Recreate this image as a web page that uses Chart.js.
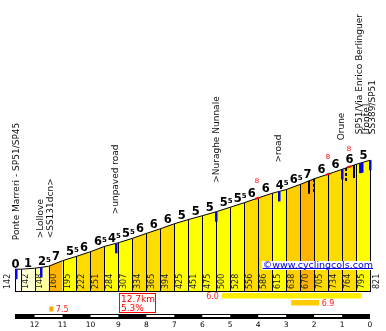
<!DOCTYPE html>
<html>
<head>
<meta charset="utf-8">
<script src="https://cdn.jsdelivr.net/npm/chart.js@4/dist/chart.umd.min.js"></script>
<style>
  body { margin: 0; background: #fff; }
  #wrap { width: 386px; height: 331px; }
</style>
</head>
<body>
<div id="wrap"><canvas id="chart"></canvas></div>
<script>
// km still to climb and altitude (m) at every column boundary
const kmToGo = [12.7, 12.5, 12, 11.5, 11, 10.5, 10, 9.5, 9, 8.5, 8, 7.5, 7, 6.5, 6, 5.5, 5, 4.5, 4, 3.5, 3, 2.5, 2, 1.5, 1, 0.5, 0];
const altitudes = [142, 142, 148, 160, 195, 222, 251, 284, 307, 334, 365, 394, 425, 451, 475, 500, 528, 556, 586, 615, 638, 670, 705, 734, 764, 795, 821];
// gradient printed above each column
const grades = [0, 1, 2.5, 7, 5.5, 6, 6.5, 4.5, 5.5, 6, 6, 6, 5, 5, 5, 5.5, 5.5, 6, 6, 4.5, 6.5, 7, 6, 6, 6, 5];
const kmTicks = [12, 11, 10, 9, 8, 7, 6, 5, 4, 3, 2, 1, 0];

const places = [
  { km: 12.65, lines: ["Ponte Marreri - SP51/SP45"] },
  { km: 11.77, lines: [">Lollove", "<SS131dcn>"] },
  { km: 9.08, lines: [">unpaved road"] },
  { km: 5.5, lines: [">Nuraghe Nunnale"] },
  { km: 3.25, lines: [">road"] },
  { km: 1.0, lines: ["Orune"] },
  { km: 0.36, lines: ["SP51/Via Enrico Berlinguer", "[fonte]", "SS389/SP51"] },
];
const blueMarks = [12.65, 11.77, 9.08, 5.5, 3.25, 1.0, 0.36, 0.3, 0.0];
const blackMarks = [2.17, 0.56];
const dashedMarks = [2.0, 0.86];
const steepSpots = [4.04, 1.5, 0.75];
const steepGrade = 8;

const climbKm = "12.7km";
const climbGrade = "5.3%";
const bestStretches = [
  { from: 5.3, to: 0.3, grade: "6.0" },
  { from: 2.82, to: 1.82, grade: "6.9" },
  { from: 11.47, to: 11.33, grade: "7.5" },
];

const gradeColour = (g) => {
  if (g < 0.5) return "#ffffff";
  if (g < 2) return "#ffffd6";
  if (g < 4) return "#ffff9c";
  if (g < 5.75) return "#ffff00";
  if (g < 6.25) return "#ffdc00";
  if (g < 6.75) return "#ffd000";
  return "#ffb400";
};

const altAt = (k) => {
  for (let i = 0; i < kmToGo.length - 1; i++) {
    if (k <= kmToGo[i] && k >= kmToGo[i + 1]) {
      const t = (kmToGo[i] - k) / (kmToGo[i] - kmToGo[i + 1]);
      return altitudes[i] + t * (altitudes[i + 1] - altitudes[i]);
    }
  }
  return altitudes[altitudes.length - 1];
};

const profileArt = {
  id: "profileArt",
  afterDatasetsDraw(chart) {
    const { ctx, scales: { x, y } } = chart;
    const xPx = (k) => x.getPixelForValue(k);
    const yPx = (m) => y.getPixelForValue(m);
    const base = yPx(0);
    ctx.save();

    // column dividers and bottom line
    ctx.strokeStyle = "#000";
    ctx.lineWidth = 1;
    kmToGo.forEach((k, i) => {
      const px = Math.round(xPx(k)) + 0.5;
      ctx.beginPath();
      ctx.moveTo(px, base);
      ctx.lineTo(px, yPx(altitudes[i]));
      ctx.stroke();
    });
    ctx.beginPath();
    ctx.moveTo(xPx(12.7), base - 0.5);
    ctx.lineTo(xPx(0) + 1, base - 0.5);
    ctx.stroke();

    // steep bits in red on the profile
    ctx.strokeStyle = "#ff0000";
    ctx.lineWidth = 2;
    steepSpots.forEach((k) => {
      ctx.beginPath();
      ctx.moveTo(xPx(k + 0.07), yPx(altAt(k + 0.07)));
      ctx.lineTo(xPx(k - 0.07), yPx(altAt(k - 0.07)));
      ctx.stroke();
    });

    // junction markers
    ctx.fillStyle = "#0000ff";
    blueMarks.forEach((k) => {
      ctx.fillRect(Math.round(xPx(k)) - 1, yPx(altAt(k)), 2.5, 10);
    });
    ctx.fillStyle = "#000";
    blackMarks.forEach((k) => {
      ctx.fillRect(Math.round(xPx(k)) - 1, yPx(altAt(k)), 2, 13);
    });
    dashedMarks.forEach((k) => {
      const top = yPx(altAt(k));
      for (let d = 0; d < 14; d += 5) ctx.fillRect(Math.round(xPx(k)) - 1, top + d, 2, 3);
    });

    // altitude in each column
    ctx.fillStyle = "#222";
    ctx.font = "8px 'DejaVu Sans'";
    ctx.textAlign = "left";
    ctx.textBaseline = "alphabetic";
    const vText = (t, cx, by, cap) => {
      ctx.save();
      ctx.translate(cx, by);
      ctx.rotate(-Math.PI / 2);
      ctx.fillText(t, 0, cap / 2);
      ctx.restore();
    };
    for (let i = 1; i < kmToGo.length - 1; i++) {
      vText(String(altitudes[i]), xPx(kmToGo[i]) + 5, base - 3, 5.8);
    }
    vText(String(altitudes[0]), xPx(kmToGo[0]) - 7.5, base - 3, 5.8);
    vText(String(altitudes[altitudes.length - 1]), xPx(0) + 6, base - 3, 5.8);

    // gradients above the columns
    ctx.fillStyle = "#000";
    grades.forEach((g, i) => {
      const x0 = xPx(kmToGo[i]);
      const x1 = xPx(kmToGo[i + 1]);
      // narrow first column: label sits on its left edge
      const cx = x1 - x0 < 10 ? x0 + 0.5 : (x0 + x1) / 2 + 0.5;
      const by = yPx(altitudes[i + 1]) - 1;
      const whole = Math.floor(g);
      ctx.font = "bold 11.5px 'DejaVu Sans'";
      ctx.textAlign = "center";
      ctx.fillText(String(whole), cx, by);
      if (g !== whole) {
        const w = ctx.measureText(String(whole)).width;
        ctx.font = "bold 7px 'DejaVu Sans'";
        ctx.textAlign = "left";
        ctx.fillText("5", cx + w / 2, by - 3.5);
      }
    });

    // red max gradient labels
    ctx.fillStyle = "#ff0000";
    ctx.font = "7px 'DejaVu Sans'";
    ctx.textAlign = "center";
    steepSpots.forEach((k) => {
      ctx.fillText(String(steepGrade), xPx(k), yPx(altAt(k)) - 15.5);
    });

    // place names
    ctx.fillStyle = "#111";
    ctx.font = "9px 'DejaVu Sans'";
    ctx.textAlign = "left";
    places.forEach((p) => {
      const gap = p.lines.length > 2 ? 6.5 : 10;
      const bottom = yPx(altAt(p.km)) - 29;
      p.lines.forEach((t, j) => vText(t, xPx(p.km) - 1 + j * gap, bottom, 6.6));
    });

    // site credit
    ctx.font = "9.5px 'DejaVu Sans'";
    const credit = "\u00a9www.cyclingcols.com";
    const cw = ctx.measureText(credit).width;
    const right = xPx(0) + 3;
    ctx.fillStyle = "#fff";
    ctx.fillRect(right - cw - 1, 261, cw + 2, 9);
    ctx.fillStyle = "#0000dd";
    ctx.fillText(credit, right - cw, 267.5);
    ctx.fillRect(right - cw, 268, cw, 1);

    // length and average box
    ctx.strokeStyle = "#ff0000";
    ctx.lineWidth = 1;
    const bx = Math.round(xPx(9)) + 1.5;
    ctx.strokeRect(bx, 293.5, 36, 19);
    ctx.fillStyle = "#ff0000";
    ctx.font = "9px 'DejaVu Sans'";
    ctx.fillText(climbKm, bx + 1.5, 302);
    ctx.fillText(climbGrade, bx + 1.5, 310.5);

    // steepest stretches
    const stretchStyle = [
      { y: 293, h: 5.5, colour: "#ffee00", side: "left" },
      { y: 300, h: 5.5, colour: "#ffcc00", side: "right" },
      { y: 306.5, h: 5, colour: "#ffaa00", side: "right" },
    ];
    ctx.font = "8px 'DejaVu Sans'";
    bestStretches.forEach((s, i) => {
      const st = stretchStyle[i];
      const x0 = xPx(s.from);
      const x1 = xPx(s.to);
      ctx.fillStyle = st.colour;
      ctx.fillRect(x0, st.y, x1 - x0, st.h);
      ctx.fillStyle = "#ff2222";
      if (st.side === "left") {
        ctx.textAlign = "right";
        ctx.fillText(s.grade, x0 - 3, st.y + 5.5);
      } else {
        ctx.textAlign = "left";
        ctx.fillText(s.grade, x1 + 2.5, st.y + 5.5);
      }
    });

    // km scale bar
    ctx.fillStyle = "#000";
    ctx.fillRect(xPx(12.7), 314, xPx(0) - xPx(12.7), 5);
    ctx.fillStyle = "#fff";
    kmTicks.forEach((k) => {
      if (k % 2 === 0 && k > 0) ctx.fillRect(xPx(k), 315, xPx(k - 1) - xPx(k), 2);
    });
    ctx.fillStyle = "#000";
    ctx.font = "7.5px 'DejaVu Sans'";
    ctx.textAlign = "center";
    kmTicks.forEach((k) => ctx.fillText(String(k), xPx(k), 326.5));

    ctx.restore();
  },
};

new Chart(document.getElementById("chart"), {
  type: "line",
  data: {
    datasets: [
      {
        data: kmToGo.map((k, i) => ({ x: k, y: altitudes[i] })),
        borderColor: "#000",
        borderWidth: 1,
        backgroundColor: "#ffff00",
        fill: "origin",
        pointRadius: 0,
        tension: 0,
        segment: {
          backgroundColor: (c) => gradeColour(grades[c.p0DataIndex]),
        },
      },
    ],
  },
  options: {
    responsive: true,
    maintainAspectRatio: false,
    animation: false,
    events: [],
    layout: { padding: { left: 15, right: 16, top: 0, bottom: 39 } },
    plugins: { legend: { display: false }, tooltip: { enabled: false } },
    scales: {
      x: { type: "linear", reverse: true, min: 0, max: 12.7, display: false },
      y: { min: 0, max: 1819, display: false },
    },
  },
  plugins: [profileArt],
});
</script>
</body>
</html>
